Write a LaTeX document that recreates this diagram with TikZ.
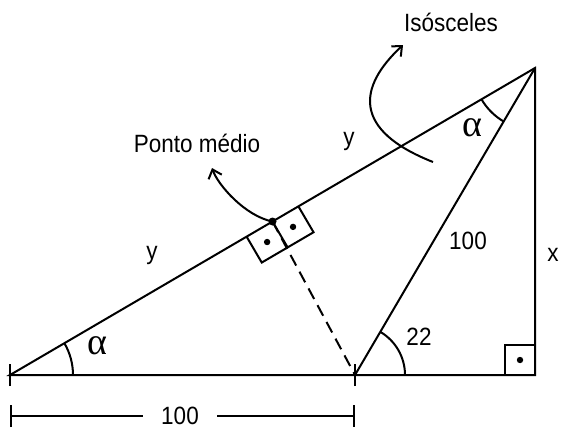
\documentclass[tikz,border=0pt]{standalone}
\usepackage{fontspec}
\setmainfont{Liberation Sans}[FakeStretch=0.9]
\newfontfamily\greekfont{Liberation Serif}
\usetikzlibrary{arrows.meta,calc,angles}

\begin{document}
\begin{tikzpicture}[
  x=0.5pt, y=0.5pt,
  font=\fontsize{12.5}{14}\selectfont,
  >={Straight Barb[length=4pt,width=7pt]},
  seg/.style={line width=1pt},
  ang/.style={draw, line width=1pt, angle radius=#1},
  lbl/.style={inner sep=0pt},
  greek/.style={font=\greekfont\fontsize{19}{21}\selectfont, inner sep=0pt},
  dimlbl/.style={inner ysep=0pt, inner xsep=9pt},
  rdot/.style={circle, fill, inner sep=0pt, minimum size=#1},
  curvearr/.style={->, line width=1pt},
]
\useasboundingbox (0,0) rectangle (561,435);

% ---- vertices ----
\coordinate (A) at (10,60);
\coordinate (B) at (355,60);
\coordinate (C) at (535,60);
\coordinate (D) at (535,367);
\coordinate (M) at ($(A)!0.5!(D)$);

% ---- triangle + cevians ----
\draw[seg] (A) -- (C) -- (D) -- cycle;
\draw[seg] (B) -- (D);
\draw[seg, dash pattern=on 6pt off 3.5pt] (M) -- (B);
\draw[seg] ([yshift=-5.5pt]A) -- ([yshift=5.5pt]A);
\draw[seg] ([yshift=-5.5pt]B) -- ([yshift=5.5pt]B);

% ---- right angles ----
\coordinate (Ma) at ($(M)!15pt!(A)$);
\coordinate (Md) at ($(M)!15pt!(D)$);
\coordinate (Mp) at ($(M)!15pt!90:(A)$);
\draw[seg] (Ma) -- ($(Ma)+(Mp)-(M)$) -- ($(Md)+(Mp)-(M)$) -- (Md);
\draw[seg] (M) -- (Mp);
\node[rdot=3.2pt] (dl) at ($(Ma)!0.5!(Mp)$) {};
\node[rdot=3.2pt] (dr) at ($(Md)!0.5!(Mp)$) {};
\node[rdot=4pt] (mdot) at (M) {};
\draw[seg] ($(C)+(-30,0)$) |- ($(C)+(0,30)$);
\node[rdot=3.2pt] (dc) at ($(C)+(-15,15)$) {};

% ---- angles ----
\pic[ang=31.5pt] {angle=C--A--D};
\pic[ang=31pt] {angle=A--D--B};
\pic[ang=25pt] {angle=C--B--D};

% ---- labels ----
\node[greek] (alA) at (97,89) {α};
\node[greek] (alD) at (472,307) {α};
\node[lbl] (a22) at (419,98) {22};
\node[lbl] (hyp) at (468,194) {100};
\node[lbl] (xlab) at (553,180) {x};
\node[lbl] (ylo) at (152,180) {y};
\node[lbl] (yhi) at (349,294) {y};
\node[lbl] (ponto) at (197,292) {Ponto médio};
\node[lbl] (iso) at (451,413) {Isósceles};

% ---- curved arrows ----
\coordinate (pTip) at (212,267);
\coordinate (iTail) at (433,273);
\coordinate (iTip) at (403,390);
\draw[curvearr] (M) .. controls (245,219) and (218,250) .. (pTip);
\draw[curvearr] (iTail) .. controls (352,305) and (358,348) .. (iTip);

% ---- dimension ----
\coordinate (L) at (10,19);
\coordinate (R) at (355,19);
\node[dimlbl] (dim) at (180,19) {100};
\draw[seg, {Bar[width=11pt]}-] (L) -- (dim.west);
\draw[seg, -{Bar[width=11pt]}] (dim.east) -- (R);

\end{tikzpicture}
\end{document}
